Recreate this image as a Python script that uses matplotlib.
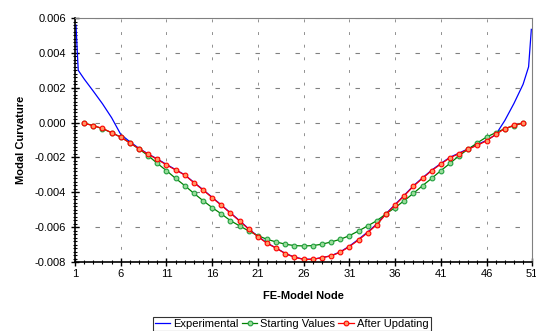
import matplotlib.pyplot as plt
from matplotlib.ticker import MultipleLocator

plt.rcParams['font.family'] = ['Liberation Sans', 'DejaVu Sans']

# ── data ────────────────────────────────────────────────────────
exp_nodes = [1.1, 1.35, 2, 3, 4, 5, 6, 7, 8, 9, 10, 11, 12, 13, 14, 15, 16, 17, 18,
             19, 20, 21, 22, 23, 24, 25, 26, 27, 28, 29, 30, 31, 32, 33, 34, 35, 36,
             37, 38, 39, 40, 41, 42, 43, 44, 45, 46, 47, 48, 49, 50, 50.6, 50.9]
experimental = [0.0056, 0.0030, 0.00250, 0.00180, 0.00108, 0.00028, -0.00068, -0.00110,
                -0.00148, -0.00180, -0.00209, -0.00240, -0.00270, -0.00300, -0.00343,
                -0.00385, -0.00429, -0.00473, -0.00518, -0.00563, -0.00610, -0.00653,
                -0.00691, -0.00720, -0.00751, -0.00772, -0.00784, -0.00784, -0.00775,
                -0.00764, -0.00742, -0.00709, -0.00670, -0.00628, -0.00582, -0.00523,
                -0.00470, -0.00417, -0.00363, -0.00317, -0.00273, -0.00235, -0.00199,
                -0.00175, -0.00150, -0.00126, -0.00102, -0.00070, 0.00012, 0.00110,
                0.00220, 0.00320, 0.00535]

nodes = list(range(2, 51))
starting = [-0.00002, -0.00018, -0.00035, -0.00058, -0.00083, -0.00116, -0.00152,
            -0.00190, -0.00234, -0.00276, -0.00320, -0.00362, -0.00406, -0.00448,
            -0.00488, -0.00524, -0.00563, -0.00593, -0.00622, -0.00649, -0.00670,
            -0.00685, -0.00698, -0.00706, -0.00708, -0.00706, -0.00698, -0.00685,
            -0.00670, -0.00649, -0.00622, -0.00593, -0.00563, -0.00524, -0.00488,
            -0.00448, -0.00406, -0.00362, -0.00320, -0.00276, -0.00234, -0.00190,
            -0.00152, -0.00116, -0.00083, -0.00058, -0.00035, -0.00018, -0.00002]
updated = [-0.00004, -0.00018, -0.00033, -0.00058, -0.00084, -0.00117, -0.00150,
           -0.00182, -0.00211, -0.00243, -0.00272, -0.00301, -0.00345, -0.00387,
           -0.00431, -0.00475, -0.00520, -0.00565, -0.00612, -0.00655, -0.00693,
           -0.00721, -0.00752, -0.00773, -0.00785, -0.00785, -0.00775, -0.00765,
           -0.00744, -0.00712, -0.00674, -0.00632, -0.00586, -0.00526, -0.00473,
           -0.00420, -0.00366, -0.00320, -0.00276, -0.00238, -0.00202, -0.00178,
           -0.00153, -0.00130, -0.00105, -0.00068, -0.00035, -0.00015, -0.00003]

x_ticks = list(range(1, 52, 5))

fig = plt.figure(figsize=(5.36, 3.31), dpi=100)
ax = fig.add_axes([0.140, 0.2085, 0.853, 0.737])

ax.plot(exp_nodes, experimental, color='#0000FF', lw=0.9, label='Experimental')
ax.plot(nodes, starting, color='#008000', lw=0.9, marker='o', ms=3.4,
        mfc='#99DD99', mec='#22A040', mew=0.8, label='Starting Values')
ax.plot(nodes, updated, color='#FF0000', lw=0.9, marker='o', ms=3.4,
        mfc='#FF9966', mec='#FF0000', mew=0.8, label='After Updating')

ax.set_xlim(1, 51)
ax.set_ylim(-0.008, 0.006)
ax.set_xticks(x_ticks)
ax.xaxis.set_minor_locator(MultipleLocator(1))
ax.yaxis.set_major_locator(MultipleLocator(0.002))
ax.yaxis.set_minor_locator(MultipleLocator(0.0002))
ax.yaxis.set_major_formatter(plt.FormatStrFormatter('%.3f'))

ax.grid(True, axis='y', color='#808080', lw=0.8, linestyle=(0, (4, 14)))
ax.grid(True, axis='x', color='#909090', lw=0.7, linestyle=(0, (3, 10)))

for side in ['top', 'right']:
    ax.spines[side].set_color('#808080')
for side in ['left', 'bottom']:
    ax.spines[side].set_linewidth(1.2)
ax.tick_params(which='major', direction='inout', length=6, width=1, labelsize=8)
ax.tick_params(which='minor', direction='inout', length=3.5, width=0.8)
ax.tick_params(axis='x', pad=2)

ax.set_xlabel('FE-Model Node', fontsize=8, fontweight='bold', labelpad=9)
ax.set_ylabel('Modal Curvature', fontsize=8, fontweight='bold', labelpad=6)

handles, labels = ax.get_legend_handles_labels()
leg = fig.legend(handles, labels, loc='lower center', bbox_to_anchor=(0.544, 0.0),
                 ncol=3, fontsize=8, frameon=True, fancybox=False,
                 handlelength=1.4, handletextpad=0.25, columnspacing=0.3,
                 borderpad=0.2, borderaxespad=0)
leg.get_frame().set_edgecolor('black')
leg.get_frame().set_linewidth(0.8)

fig.savefig('out.png', dpi=100)
